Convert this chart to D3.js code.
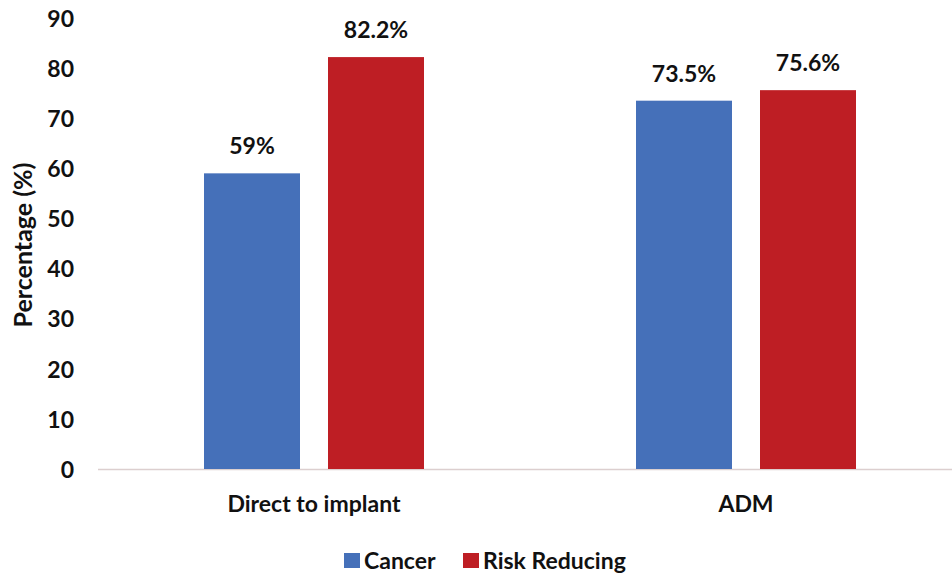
<!DOCTYPE html>
<html>
<head>
<meta charset="utf-8">
<script src="https://cdn.jsdelivr.net/npm/d3@7"></script>
<style>
  html, body { margin: 0; padding: 0; background: #fff; }
  svg { display: block; }
  text { font-family: Lato, "Open Sans", sans-serif; font-weight: bold; fill: #111; }
</style>
</head>
<body>
<svg id="chart" width="952" height="575"></svg>
<script>
// Reconstruction outcome by technique and indication
const categories = ["Direct to implant", "ADM"];
const seriesNames = ["Cancer", "Risk Reducing"];
const cancerValues = [59, 73.5];
const riskReducingValues = [82.2, 75.6];
const valueLabels = [["59%", "73.5%"], ["82.2%", "75.6%"]];
const yTicks = [0, 10, 20, 30, 40, 50, 60, 70, 80, 90];
const colors = ["#4570B9", "#BE1E24"];

const series = [cancerValues, riskReducingValues];
const fontSize = 23;

const svg = d3.select("#chart");
const plot = { left: 98, right: 962, top: 18, bottom: 469 };

const x0 = d3.scaleBand().domain(categories).range([plot.left, plot.right]).padding(0);
const groupWidth = 220;
const x1 = d3.scaleBand().domain(seriesNames).range([-groupWidth / 2, groupWidth / 2])
  .paddingInner(28 / 124).paddingOuter(0);
const y = d3.scaleLinear().domain([0, 90]).range([plot.bottom, plot.top]);

// y axis tick labels (no axis line, no tick marks)
const yAxis = svg.append("g")
  .attr("transform", `translate(${plot.left - 24},0)`)
  .call(d3.axisLeft(y).tickValues(yTicks).tickSize(0).tickPadding(0));
yAxis.select(".domain").remove();
yAxis.selectAll("text")
  .attr("font-size", fontSize)
  .attr("font-family", "Lato, sans-serif")
  .attr("font-weight", "bold")
  .attr("fill", "#111")
  .attr("dy", "0.36em");

// baseline
svg.append("line")
  .attr("x1", plot.left).attr("x2", plot.right)
  .attr("y1", y(0) + 0.5).attr("y2", y(0) + 0.5)
  .attr("stroke", "#DCCFCF").attr("stroke-width", 1.5);

// bars
const groups = svg.append("g").selectAll("g")
  .data(categories)
  .join("g")
  .attr("transform", d => `translate(${x0(d) + x0.bandwidth() / 2},0)`);

groups.each(function (cat, ci) {
  const g = d3.select(this);
  seriesNames.forEach((s, si) => {
    const v = series[si][ci];
    g.append("rect")
      .attr("x", x1(s))
      .attr("width", x1.bandwidth())
      .attr("y", y(v))
      .attr("height", y(0) - y(v))
      .attr("fill", colors[si]);
    g.append("text")
      .attr("x", x1(s) + x1.bandwidth() / 2)
      .attr("y", y(v) - 19)
      .attr("text-anchor", "middle")
      .attr("font-size", fontSize)
      .text(valueLabels[si][ci]);
  });
});

// x axis category labels
const xAxis = svg.append("g")
  .attr("transform", `translate(0,${plot.bottom})`)
  .call(d3.axisBottom(x0).tickSize(0).tickPadding(0));
xAxis.select(".domain").remove();
xAxis.selectAll("text")
  .attr("font-size", fontSize)
  .attr("font-family", "Lato, sans-serif")
  .attr("font-weight", "bold")
  .attr("fill", "#111")
  .attr("dy", null)
  .attr("y", 43);

// y axis title
svg.append("text")
  .attr("transform", `translate(32,245) rotate(-90)`)
  .attr("text-anchor", "middle")
  .attr("font-size", 25)
  .text("Percentage (%)");

// legend
const legend = svg.append("g").attr("transform", "translate(344,553)");
const legendX = [0, 119];
seriesNames.forEach((s, i) => {
  const item = legend.append("g").attr("transform", `translate(${legendX[i]},0)`);
  item.append("rect").attr("width", 16).attr("height", 15).attr("fill", colors[i]);
  item.append("text").attr("x", 20).attr("y", 16).attr("font-size", fontSize).text(s);
});
</script>
</body>
</html>
